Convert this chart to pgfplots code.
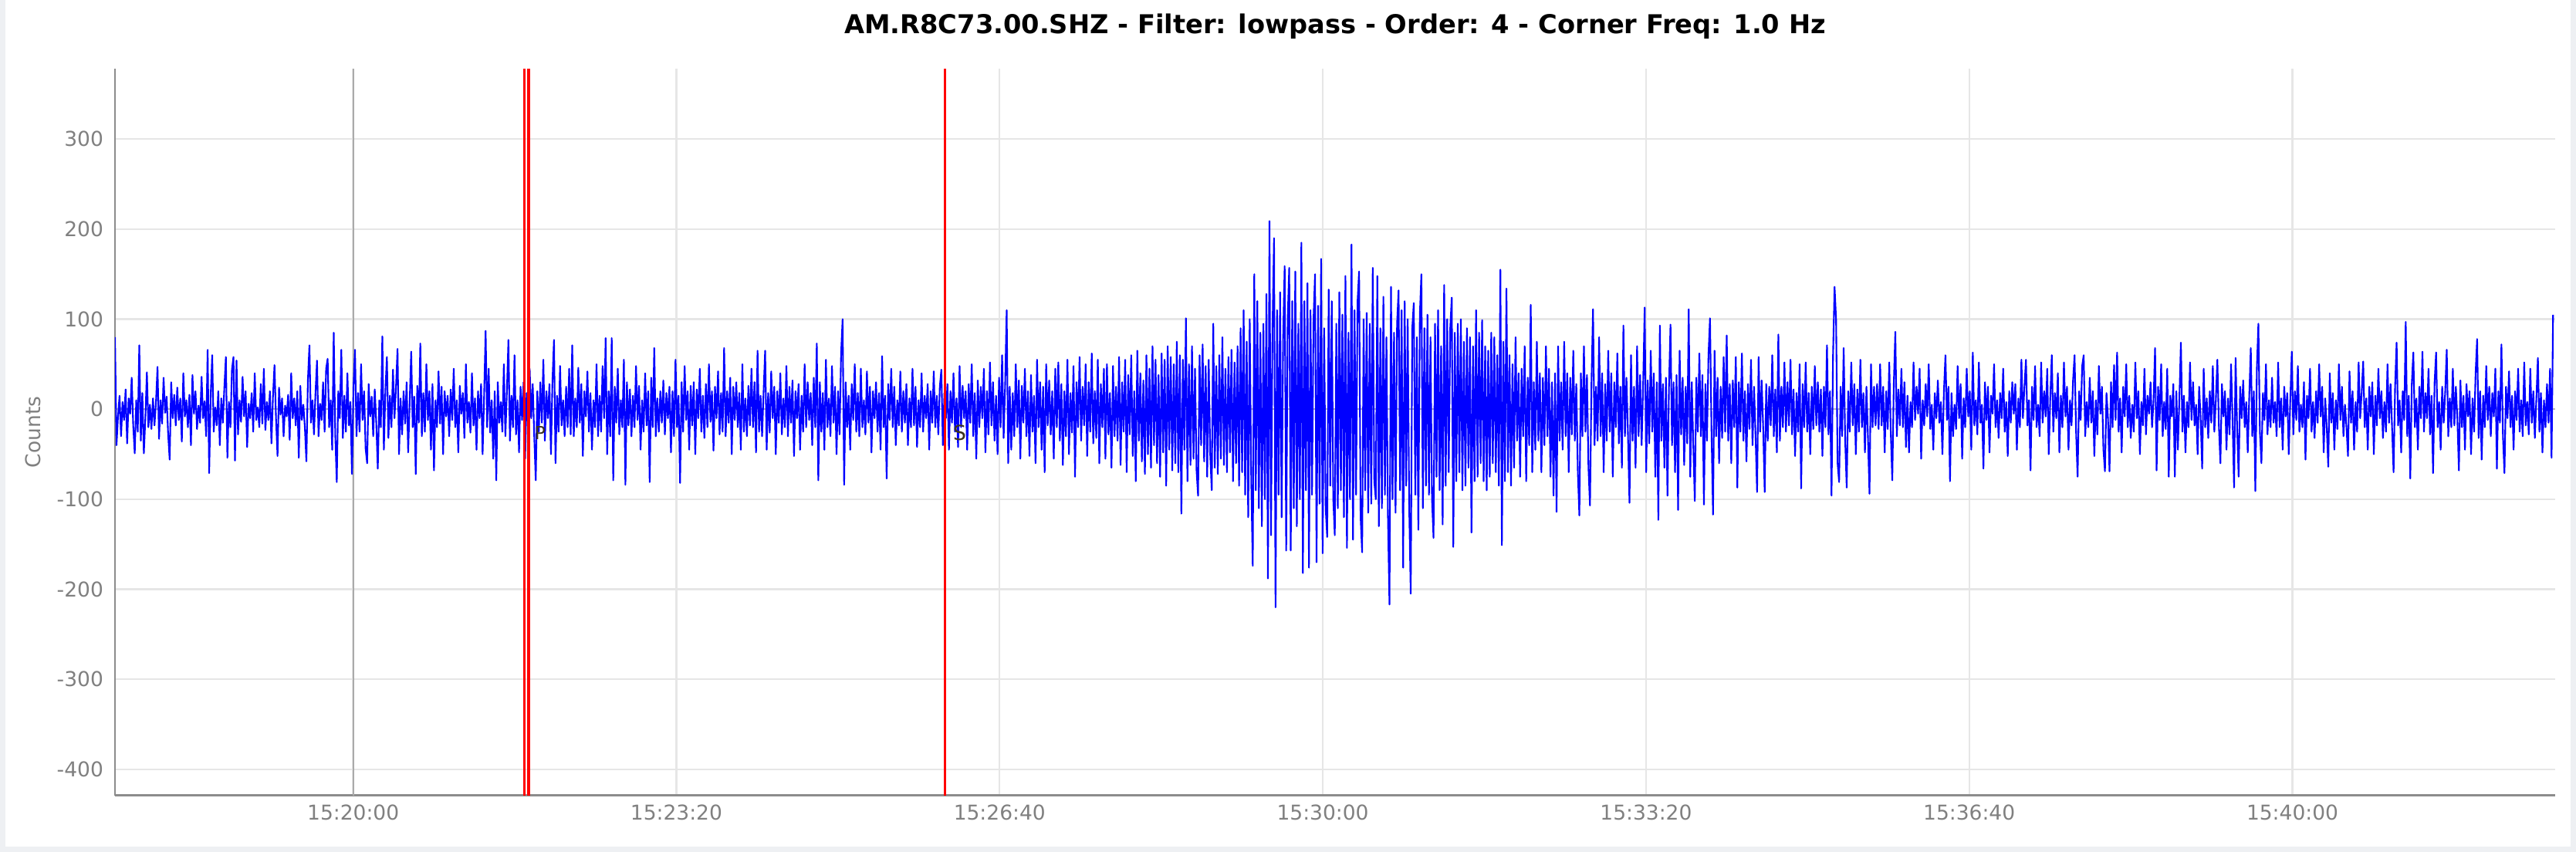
\documentclass[border=0pt]{standalone}
\usepackage{pgfplots}
\pgfplotsset{compat=1.18}
\usepackage{fontspec}
\setmainfont{DejaVu Sans}
\definecolor{tickgray}{RGB}{128,128,128}
\definecolor{gridgray}{RGB}{230,230,230}
\definecolor{framegray}{RGB}{238,240,243}
\definecolor{axisgray}{RGB}{140,140,140}
\definecolor{zerogray}{RGB}{185,185,185}
\definecolor{markgray}{RGB}{170,170,170}
\definecolor{sigblue}{RGB}{0,0,255}
\definecolor{pickred}{RGB}{255,0,0}
\definecolor{phasecol}{RGB}{60,50,30}
\begin{document}
\begin{tikzpicture}[x=1pt,y=1pt]
\useasboundingbox (0,0) rectangle (1001.4,331.2);
\fill[framegray] (0,0) rectangle (1001.4,331.2);
\fill[white] (2.1,2.1) rectangle (999.3,331.2);
\begin{axis}[
  at={(44.7pt,22pt)}, anchor=south west,
  scale only axis, width=948.6pt, height=282.4pt,
  xmin=1052.6, xmax=2562.6, ymin=-429, ymax=378,
  axis x line*=bottom, axis y line*=left,
  x axis line style={-, draw=axisgray, line width=0.9pt},
  y axis line style={-, draw=axisgray, line width=0.6pt},
  major tick length=0pt,
  xtick={1200,1400,1600,1800,2000,2200,2400},
  xticklabels={15:20:00,15:23:20,15:26:40,15:30:00,15:33:20,15:36:40,15:40:00},
  ytick={-400,-300,-200,-100,0,100,200,300},
  grid=major,
  major grid style={draw=gridgray, line width=0.7pt},
  /pgf/number format/assume math mode=true,
  tick label style={font=\fontsize{7.95}{9}\selectfont, text=tickgray},
  yticklabel style={xshift=-1pt},
  title={AM.R8C73.00.SHZ - Filter: lowpass - Order: 4 - Corner Freq: 1.0 Hz},
  title style={font=\bfseries\fontsize{10.1}{12}\selectfont, at={(axis description cs:0.5,1)}, anchor=base, yshift=7.8pt},
  ylabel={Counts},
  ylabel style={at={(axis description cs:-0.0335,0.5)}, anchor=center, font=\fontsize{7.95}{9}\selectfont, text=tickgray},
]
\addplot[markgray, line width=0.6pt] coordinates {(1200,-429) (1200,378)};
\addplot[zerogray, line width=0.7pt] coordinates {(1052.6,0) (2562.6,0)};
\addplot[sigblue, line width=0.63pt, line join=round] table[row sep=\\, header=false, x expr={1052.6+\coordindex*0.94}, y index=0] {
80\\ -40\\ -8\\ 15\\ -30\\ 8\\ -12\\ 22\\ -38\\ 12\\ -5\\ 35\\ -18\\ -49\\ 10\\ -25\\ 71\\ -35\\ 18\\ -49\\
-10\\ 41\\ -20\\ 5\\ -22\\ 12\\ -18\\ 8\\ 47\\ -33\\ 10\\ -16\\ 35\\ -4\\ 14\\ -28\\ -56\\ 30\\ -10\\ 16\\
-18\\ 24\\ -12\\ 12\\ -36\\ 40\\ -8\\ 10\\ -20\\ 16\\ -40\\ 38\\ -5\\ 20\\ -22\\ 4\\ -15\\ 36\\ -10\\ 9\\
-30\\ 66\\ -71\\ 15\\ 60\\ -25\\ 2\\ -18\\ 20\\ -40\\ 12\\ -15\\ 24\\ 58\\ -54\\ 8\\ -20\\ 44\\ 58\\ -57\\
54\\ -28\\ 10\\ -14\\ 36\\ -8\\ 20\\ -42\\ 6\\ -10\\ 18\\ -25\\ 40\\ -12\\ 2\\ -20\\ 28\\ -16\\ 45\\ -23\\
8\\ -12\\ 20\\ -38\\ 14\\ 49\\ -10\\ -52\\ 24\\ -6\\ 12\\ -30\\ 4\\ -8\\ 16\\ -34\\ 40\\ -10\\ 12\\ -18\\
20\\ -54\\ 26\\ -12\\ 5\\ -20\\ -58\\ 32\\ 71\\ -15\\ 10\\ -28\\ 18\\ 54\\ -30\\ 6\\ -12\\ 30\\ -25\\ 45\\
56\\ -20\\ 10\\ -45\\ 85\\ -28\\ -81\\ 20\\ -10\\ 66\\ -32\\ 15\\ -25\\ 40\\ -18\\ 8\\ -72\\ 25\\ 66\\ -30\\
18\\ -25\\ 50\\ -12\\ 20\\ -44\\ -60\\ 28\\ -8\\ 14\\ -30\\ 22\\ -15\\ -66\\ 10\\ -20\\ 81\\ -45\\ 20\\ 58\\
-32\\ 15\\ -20\\ 44\\ -10\\ 25\\ 67\\ -50\\ 12\\ -28\\ 20\\ -16\\ 30\\ -48\\ 8\\ 64\\ -20\\ 14\\ -72\\ 26\\
-15\\ 73\\ -30\\ 18\\ -25\\ 50\\ -12\\ 20\\ -45\\ 28\\ -68\\ 10\\ -20\\ 42\\ -16\\ 25\\ -50\\ 20\\ -8\\ 15\\
-30\\ 22\\ -12\\ 45\\ -20\\ 10\\ -48\\ 26\\ -5\\ 18\\ -32\\ 50\\ -15\\ 8\\ -26\\ 40\\ -18\\ 12\\ -45\\ 20\\
-10\\ 28\\ -50\\ 15\\ 87\\ -20\\ 45\\ -26\\ 10\\ -55\\ 20\\ -79\\ 30\\ -15\\ 8\\ -25\\ 50\\ -30\\ 20\\ 77\\
-35\\ 15\\ -20\\ 60\\ -28\\ 10\\ -48\\ 25\\ -12\\ 30\\ -55\\ 18\\ -20\\ 45\\ -10\\ 28\\ -30\\ -79\\ 20\\ -25\\
30\\ -15\\ 55\\ -35\\ 20\\ -10\\ 28\\ -50\\ 32\\ 77\\ -60\\ 15\\ -25\\ 48\\ -18\\ 10\\ -30\\ 25\\ -20\\ 45\\
-28\\ 71\\ -30\\ 12\\ -20\\ 46\\ -15\\ 28\\ -52\\ 20\\ -8\\ 42\\ -25\\ 18\\ -45\\ 10\\ -20\\ 50\\ -30\\ 15\\
-25\\ 48\\ -10\\ 79\\ -50\\ 20\\ -30\\ 79\\ -79\\ 25\\ -15\\ 45\\ -28\\ 10\\ -20\\ 55\\ -84\\ 30\\ -18\\ 22\\
-30\\ 15\\ -20\\ 48\\ -12\\ 26\\ -45\\ 10\\ -25\\ 40\\ -18\\ 20\\ -81\\ 35\\ -20\\ 68\\ -30\\ 12\\ -25\\ 20\\
-15\\ 32\\ -28\\ 18\\ -10\\ 25\\ -48\\ 20\\ -30\\ 55\\ -20\\ 15\\ -82\\ 30\\ -25\\ 48\\ -12\\ 20\\ -45\\ 26\\
-18\\ 30\\ -50\\ 22\\ -10\\ 45\\ -25\\ 15\\ -32\\ 28\\ -20\\ 50\\ -14\\ 20\\ -46\\ 25\\ -10\\ 42\\ -28\\ 18\\
-25\\ 68\\ -30\\ 20\\ -15\\ 35\\ -50\\ 25\\ -12\\ 30\\ -20\\ 18\\ -45\\ 50\\ -25\\ 12\\ -30\\ 26\\ -18\\ 45\\
-20\\ 30\\ -48\\ 65\\ -25\\ 15\\ -30\\ 20\\ 65\\ -45\\ 18\\ -26\\ 42\\ -10\\ 25\\ -50\\ 20\\ -15\\ 40\\ -28\\
12\\ -20\\ 48\\ -30\\ 25\\ -15\\ 32\\ -52\\ 20\\ -10\\ 28\\ -45\\ 15\\ -25\\ 50\\ -20\\ 30\\ -12\\ 18\\ -40\\
35\\ -20\\ 73\\ -79\\ 30\\ -25\\ 18\\ -45\\ 55\\ -20\\ 12\\ -30\\ 48\\ -15\\ 25\\ -50\\ 20\\ -28\\ 62\\ 100\\
-84\\ 30\\ -20\\ 15\\ -45\\ 28\\ -12\\ 50\\ -25\\ 18\\ -30\\ 45\\ -20\\ 10\\ -28\\ 42\\ -15\\ 25\\ -48\\ 20\\
-10\\ 30\\ -25\\ 18\\ -45\\ 59\\ -20\\ 15\\ -77\\ 28\\ -12\\ 45\\ -20\\ 25\\ -40\\ 10\\ -18\\ 42\\ -25\\ 20\\
-15\\ 28\\ -40\\ 12\\ -20\\ 45\\ -18\\ 25\\ -42\\ 10\\ -20\\ 40\\ -25\\ 15\\ -10\\ 28\\ -45\\ 20\\ -15\\ 42\\
-20\\ 15\\ -28\\ 25\\ 44\\ -40\\ 18\\ -10\\ 28\\ -45\\ 20\\ -15\\ 40\\ -25\\ 12\\ -42\\ 48\\ -20\\ 26\\ -10\\
20\\ -45\\ 28\\ -15\\ 50\\ -30\\ 18\\ -55\\ 32\\ -20\\ 25\\ -10\\ 45\\ -48\\ 20\\ -28\\ 52\\ -18\\ 30\\ -35\\
15\\ -50\\ 35\\ -20\\ 60\\ -32\\ 28\\ 110\\ -60\\ 25\\ -45\\ 18\\ -30\\ 50\\ -20\\ 32\\ -55\\ 26\\ -15\\ 45\\
-30\\ 20\\ -52\\ 38\\ -25\\ 15\\ -60\\ 55\\ -20\\ 30\\ -45\\ 25\\ -70\\ 50\\ -18\\ 32\\ -28\\ 20\\ -55\\ 45\\
-20\\ 52\\ -35\\ 28\\ -62\\ 20\\ -30\\ 55\\ -50\\ 18\\ -26\\ 48\\ -75\\ 30\\ -20\\ 58\\ -35\\ 25\\ -18\\ 50\\
-52\\ 30\\ -25\\ 62\\ -38\\ 20\\ -32\\ 55\\ -60\\ 28\\ -20\\ 45\\ -55\\ 50\\ -28\\ 18\\ -65\\ 48\\ -30\\ 25\\
-35\\ 58\\ -62\\ 30\\ -25\\ 55\\ -70\\ 38\\ -28\\ 60\\ -52\\ 20\\ -80\\ 65\\ -35\\ 40\\ -58\\ 32\\ -72\\ 60\\
-50\\ 45\\ -65\\ 70\\ -40\\ 55\\ -60\\ 38\\ -75\\ 62\\ -48\\ 55\\ -85\\ 70\\ -45\\ 58\\ -68\\ 50\\ -60\\ 75\\
-70\\ 60\\ -116\\ 55\\ -45\\ 101\\ -80\\ 50\\ -62\\ 70\\ -55\\ 45\\ -68\\ -96\\ 60\\ -40\\ 72\\ -58\\ 48\\ -75\\
55\\ -50\\ -90\\ 95\\ -65\\ 48\\ -72\\ 60\\ -55\\ 80\\ -62\\ 45\\ -70\\ 58\\ -48\\ 66\\ -80\\ 52\\ -60\\ 70\\
-85\\ 90\\ -70\\ 110\\ -95\\ 75\\ -120\\ 100\\ -80\\ -174\\ 150\\ -90\\ 120\\ -110\\ 85\\ -130\\ 95\\ -100\\ 128\\ -188\\
209\\ -140\\ 90\\ 190\\ -220\\ 110\\ -95\\ 130\\ -120\\ 80\\ 159\\ -157\\ 100\\ 157\\ -157\\ 120\\ -110\\ 153\\ -130\\ 95\\
-100\\ 185\\ -182\\ 120\\ -90\\ 140\\ -176\\ 110\\ -95\\ 100\\ 150\\ -170\\ 115\\ -105\\ 167\\ -160\\ 90\\ -110\\ -142\\ 133\\
-85\\ 120\\ -100\\ -140\\ 95\\ -110\\ 130\\ -90\\ 105\\ -120\\ 148\\ -154\\ 85\\ -100\\ 183\\ -145\\ 110\\ -95\\ 120\\ 153\\
-120\\ -159\\ 100\\ -90\\ 107\\ -115\\ 95\\ -105\\ 157\\ -80\\ -100\\ 148\\ -130\\ 90\\ -110\\ 125\\ -95\\ 80\\ -120\\ -217\\
136\\ -100\\ 85\\ -115\\ 95\\ 132\\ -90\\ 110\\ -176\\ 120\\ -85\\ 100\\ -110\\ -205\\ 90\\ 118\\ -95\\ 80\\ -134\\ 105\\
150\\ -110\\ 90\\ -85\\ 105\\ -95\\ 80\\ -100\\ -143\\ 95\\ -75\\ 110\\ -90\\ 70\\ -128\\ 138\\ -85\\ 100\\ -70\\ 90\\
124\\ -153\\ 85\\ -80\\ 95\\ -70\\ 100\\ -90\\ 75\\ -85\\ 90\\ -65\\ 80\\ -137\\ 70\\ -80\\ 110\\ -75\\ 85\\ -60\\
99\\ -80\\ 70\\ -90\\ 65\\ -75\\ 85\\ -60\\ 80\\ -70\\ 60\\ -85\\ 155\\ -151\\ 75\\ -80\\ 134\\ -70\\ 60\\ -85\\
50\\ -65\\ 80\\ -35\\ 40\\ -75\\ 45\\ -30\\ 70\\ -80\\ 35\\ -40\\ 116\\ -70\\ 30\\ -45\\ 75\\ -35\\ 40\\ -70\\
35\\ -40\\ 70\\ -30\\ 45\\ -75\\ 30\\ -96\\ 40\\ -114\\ 70\\ -35\\ 30\\ -45\\ 75\\ -30\\ 40\\ -70\\ 35\\ -28\\
65\\ -35\\ 28\\ -70\\ -118\\ 40\\ -30\\ 70\\ -25\\ 38\\ -65\\ -107\\ 30\\ 111\\ -40\\ 25\\ -35\\ 80\\ -30\\ 40\\
-70\\ 28\\ -35\\ 65\\ -25\\ 40\\ -75\\ 30\\ -20\\ 62\\ -38\\ 25\\ -65\\ 93\\ -30\\ 35\\ -28\\ -104\\ 60\\ -35\\
25\\ -65\\ 70\\ -30\\ 38\\ -40\\ 28\\ 113\\ -70\\ 32\\ -38\\ 65\\ -25\\ 40\\ -75\\ 30\\ -123\\ 93\\ -35\\ 28\\
-65\\ 35\\ -96\\ 25\\ 94\\ -40\\ 30\\ -70\\ 38\\ -112\\ 65\\ -28\\ 35\\ -62\\ 25\\ -38\\ 111\\ -75\\ 30\\ -40\\
-102\\ 35\\ -25\\ 62\\ -30\\ 38\\ -106\\ 28\\ -35\\ 60\\ 101\\ -25\\ -117\\ 65\\ -30\\ 35\\ -60\\ 25\\ -32\\ 58\\
-25\\ 82\\ -35\\ 28\\ -60\\ 32\\ -20\\ 58\\ -87\\ 30\\ -25\\ 62\\ -35\\ 20\\ -58\\ 28\\ -22\\ 55\\ -40\\ 25\\
-30\\ -92\\ 58\\ -25\\ 32\\ -20\\ -92\\ 28\\ -35\\ 25\\ -18\\ 60\\ -30\\ 22\\ -48\\ 83\\ -35\\ 25\\ -20\\ 52\\
-25\\ 30\\ -18\\ 55\\ -28\\ 22\\ -52\\ 18\\ -25\\ 50\\ -88\\ 28\\ -20\\ 52\\ -25\\ 18\\ -50\\ 25\\ -22\\ 48\\
-18\\ 30\\ -25\\ 22\\ -52\\ 25\\ -20\\ 71\\ -28\\ 20\\ -96\\ 60\\ 136\\ 100\\ -60\\ -81\\ 25\\ -30\\ 68\\ -35\\
-87\\ 20\\ -25\\ 52\\ -18\\ 28\\ -50\\ 22\\ -25\\ 55\\ -20\\ 18\\ -48\\ 25\\ -32\\ -94\\ 50\\ -20\\ 25\\ -18\\
28\\ -22\\ 50\\ -18\\ 25\\ -48\\ 20\\ -22\\ 52\\ -25\\ -79\\ 28\\ 86\\ -30\\ 22\\ -18\\ 45\\ -20\\ 30\\ -42\\
15\\ -48\\ 8\\ -20\\ 52\\ -12\\ 25\\ -5\\ 45\\ -55\\ 10\\ -18\\ 28\\ -8\\ 50\\ -22\\ 5\\ -45\\ 18\\ -10\\
32\\ -15\\ 8\\ -50\\ 20\\ 60\\ -12\\ 25\\ -80\\ 18\\ -30\\ 5\\ -22\\ 48\\ -10\\ 28\\ -55\\ 12\\ -20\\ 45\\
-8\\ 20\\ -45\\ 63\\ -18\\ 10\\ -28\\ 52\\ -15\\ 5\\ -66\\ 30\\ -12\\ 25\\ -48\\ 15\\ -5\\ 50\\ -20\\ 10\\
-32\\ 18\\ -10\\ 45\\ -25\\ 8\\ -52\\ 20\\ -15\\ 30\\ -5\\ 28\\ -45\\ 12\\ -20\\ 55\\ -10\\ 25\\ 55\\ -18\\
10\\ -68\\ 25\\ -12\\ 48\\ -20\\ 5\\ -30\\ 52\\ -15\\ 20\\ -8\\ 45\\ -50\\ 12\\ 60\\ -25\\ 18\\ -10\\ 40\\
-48\\ 15\\ -20\\ 52\\ -8\\ 25\\ -45\\ 10\\ -18\\ 32\\ 60\\ -25\\ -75\\ 20\\ -12\\ 48\\ 60\\ -30\\ 8\\ -20\\
35\\ -15\\ 20\\ -52\\ 10\\ -28\\ 48\\ -5\\ 25\\ -45\\ -69\\ 18\\ -10\\ -69\\ 30\\ -20\\ 49\\ -12\\ 63\\ -25\\
12\\ -48\\ 25\\ -8\\ 50\\ -20\\ 15\\ -32\\ 5\\ -25\\ 52\\ -10\\ 20\\ -50\\ 8\\ -18\\ 45\\ -28\\ 15\\ -5\\
30\\ -20\\ 10\\ 68\\ -68\\ 25\\ -12\\ 50\\ -30\\ 8\\ -22\\ 45\\ -75\\ 15\\ -8\\ 28\\ -75\\ 20\\ -45\\ 12\\
74\\ -25\\ 15\\ -48\\ 8\\ -20\\ 52\\ -12\\ 30\\ -18\\ 5\\ -50\\ 25\\ -10\\ -66\\ 45\\ -20\\ 12\\ -32\\ 20\\
-15\\ 48\\ -25\\ 10\\ 55\\ -18\\ -60\\ 28\\ -8\\ 20\\ -45\\ 12\\ -28\\ 50\\ -10\\ -87\\ 57\\ -20\\ -75\\ 25\\
-10\\ 32\\ -20\\ 8\\ -48\\ 15\\ 68\\ -30\\ 20\\ -91\\ 45\\ 95\\ -25\\ -60\\ 18\\ -12\\ 50\\ -28\\ 10\\ -20\\
35\\ -15\\ 8\\ -30\\ 52\\ -20\\ 12\\ -45\\ 25\\ -8\\ 18\\ -50\\ 10\\ 64\\ -28\\ 20\\ -12\\ 48\\ -25\\ 5\\
-20\\ 30\\ -56\\ 15\\ -10\\ 45\\ -25\\ 8\\ -32\\ 20\\ -15\\ 50\\ -8\\ 25\\ -48\\ 12\\ -20\\ -64\\ 40\\ -15\\
18\\ -45\\ 10\\ -22\\ 50\\ -12\\ 25\\ -30\\ 5\\ -20\\ -52\\ 42\\ -15\\ 20\\ -45\\ 8\\ -25\\ 52\\ -10\\ 18\\
53\\ -20\\ 12\\ -45\\ 25\\ -8\\ 30\\ -50\\ 15\\ -18\\ 45\\ -10\\ 20\\ -32\\ 8\\ -25\\ 50\\ -15\\ 28\\ -20\\
-70\\ 25\\ 74\\ -18\\ 10\\ -48\\ 20\\ -12\\ 97\\ -30\\ 15\\ -77\\ 28\\ 63\\ -20\\ 12\\ -45\\ 25\\ -10\\ 64\\
-25\\ 18\\ -10\\ 45\\ -28\\ 15\\ -71\\ 30\\ 63\\ -20\\ 8\\ -45\\ 25\\ -15\\ 20\\ 66\\ -30\\ 12\\ -20\\ 45\\
-18\\ 25\\ -10\\ -68\\ 32\\ -20\\ 15\\ -45\\ 28\\ -8\\ 20\\ -50\\ 12\\ -25\\ 40\\ 78\\ -32\\ 20\\ -56\\ 15\\
-20\\ 48\\ -12\\ 25\\ -30\\ 18\\ -8\\ 45\\ -66\\ 20\\ -15\\ 72\\ -30\\ -71\\ 25\\ -10\\ 42\\ -20\\ 15\\ -45\\
20\\ -12\\ 45\\ -25\\ 10\\ -30\\ 52\\ -18\\ 8\\ -28\\ 45\\ -15\\ 20\\ -32\\ 12\\ 57\\ -25\\ 18\\ -48\\ 10\\
-20\\ 28\\ -15\\ 45\\ -54\\ 105\\
};
\addplot[pickred, line width=0.9pt] coordinates {(1305.7,-429) (1305.7,378)};
\addplot[pickred, line width=1.2pt] coordinates {(1308.6,-429) (1308.6,378)};
\addplot[pickred, line width=0.9pt] coordinates {(1566.2,-429) (1566.2,378)};
\node[anchor=west, font=\fontsize{7}{8}\selectfont, text=phasecol, inner sep=0pt] at (axis cs:1312,-26) {P};
\node[anchor=west, font=\fontsize{8}{9}\selectfont, text=phasecol, inner sep=0pt] at (axis cs:1571,-26) {S};
\end{axis}
\end{tikzpicture}
\end{document}
